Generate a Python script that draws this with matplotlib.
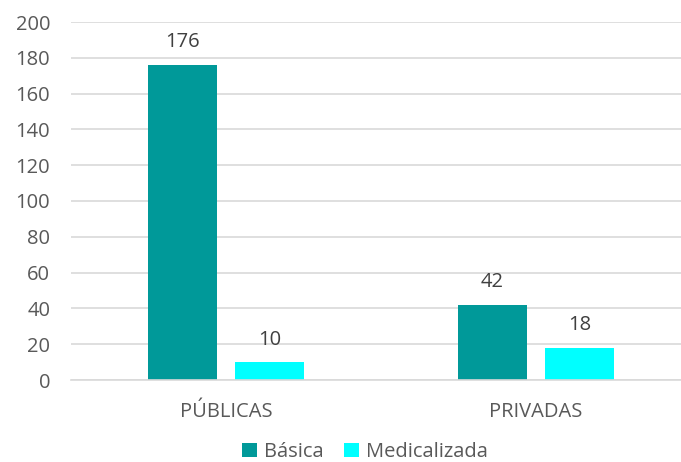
import matplotlib
matplotlib.use("Agg")
import matplotlib.pyplot as plt
import numpy as np

categories = ["PÚBLICAS", "PRIVADAS"]
series_names = ["Básica", "Medicalizada"]
basica = [176, 42]
medicalizada = [10, 18]
yticks = [0, 20, 40, 60, 80, 100, 120, 140, 160, 180, 200]

TEXT = "#595959"
FS = 14.5
plt.rcParams["font.family"] = ["Open Sans", "DejaVu Sans"]

fig = plt.figure(figsize=(6.81, 4.62), dpi=100)
# plot area runs a little past the right edge of the picture, as in the original
ax = fig.add_axes([71 / 681, 1 - 380 / 462, 620 / 681, 358 / 462])

x = np.arange(len(categories))
w = 0.224
off = 0.141
b1 = ax.bar(x - off, basica, w, color="#009999", label=series_names[0], zorder=3)
b2 = ax.bar(x + off, medicalizada, w, color="#00FFFF", label=series_names[1], zorder=3)

for bars in (b1, b2):
    for r in bars:
        ax.text(r.get_x() + r.get_width() / 2, r.get_height() + 7, f"{int(r.get_height())}",
                ha="center", va="bottom", fontsize=FS, color="#404040")

ax.set_xlim(-0.5, 1.5)
ax.set_ylim(0, 200)
ax.set_yticks(yticks)
ax.set_xticks(x)
ax.set_xticklabels(categories)
ax.grid(axis="y", color="#d9d9d9", linewidth=1.2, zorder=0)
for s in ("top", "right", "left"):
    ax.spines[s].set_visible(False)
ax.spines["bottom"].set_color("#d9d9d9")
ax.spines["bottom"].set_linewidth(1.2)
ax.spines["bottom"].set_zorder(4)
ax.tick_params(axis="both", length=0, labelsize=FS, colors=TEXT)
ax.tick_params(axis="x", pad=16)
ax.tick_params(axis="y", pad=15)

fig.legend(handles=[b1, b2], loc="center", bbox_to_anchor=(365 / 681, 1 - 452 / 462), ncol=2,
           frameon=False, fontsize=FS, labelcolor=TEXT, handlelength=0.75,
           handleheight=0.75, handletextpad=0.35, columnspacing=1.0)

fig.savefig("out.png", dpi=100)
